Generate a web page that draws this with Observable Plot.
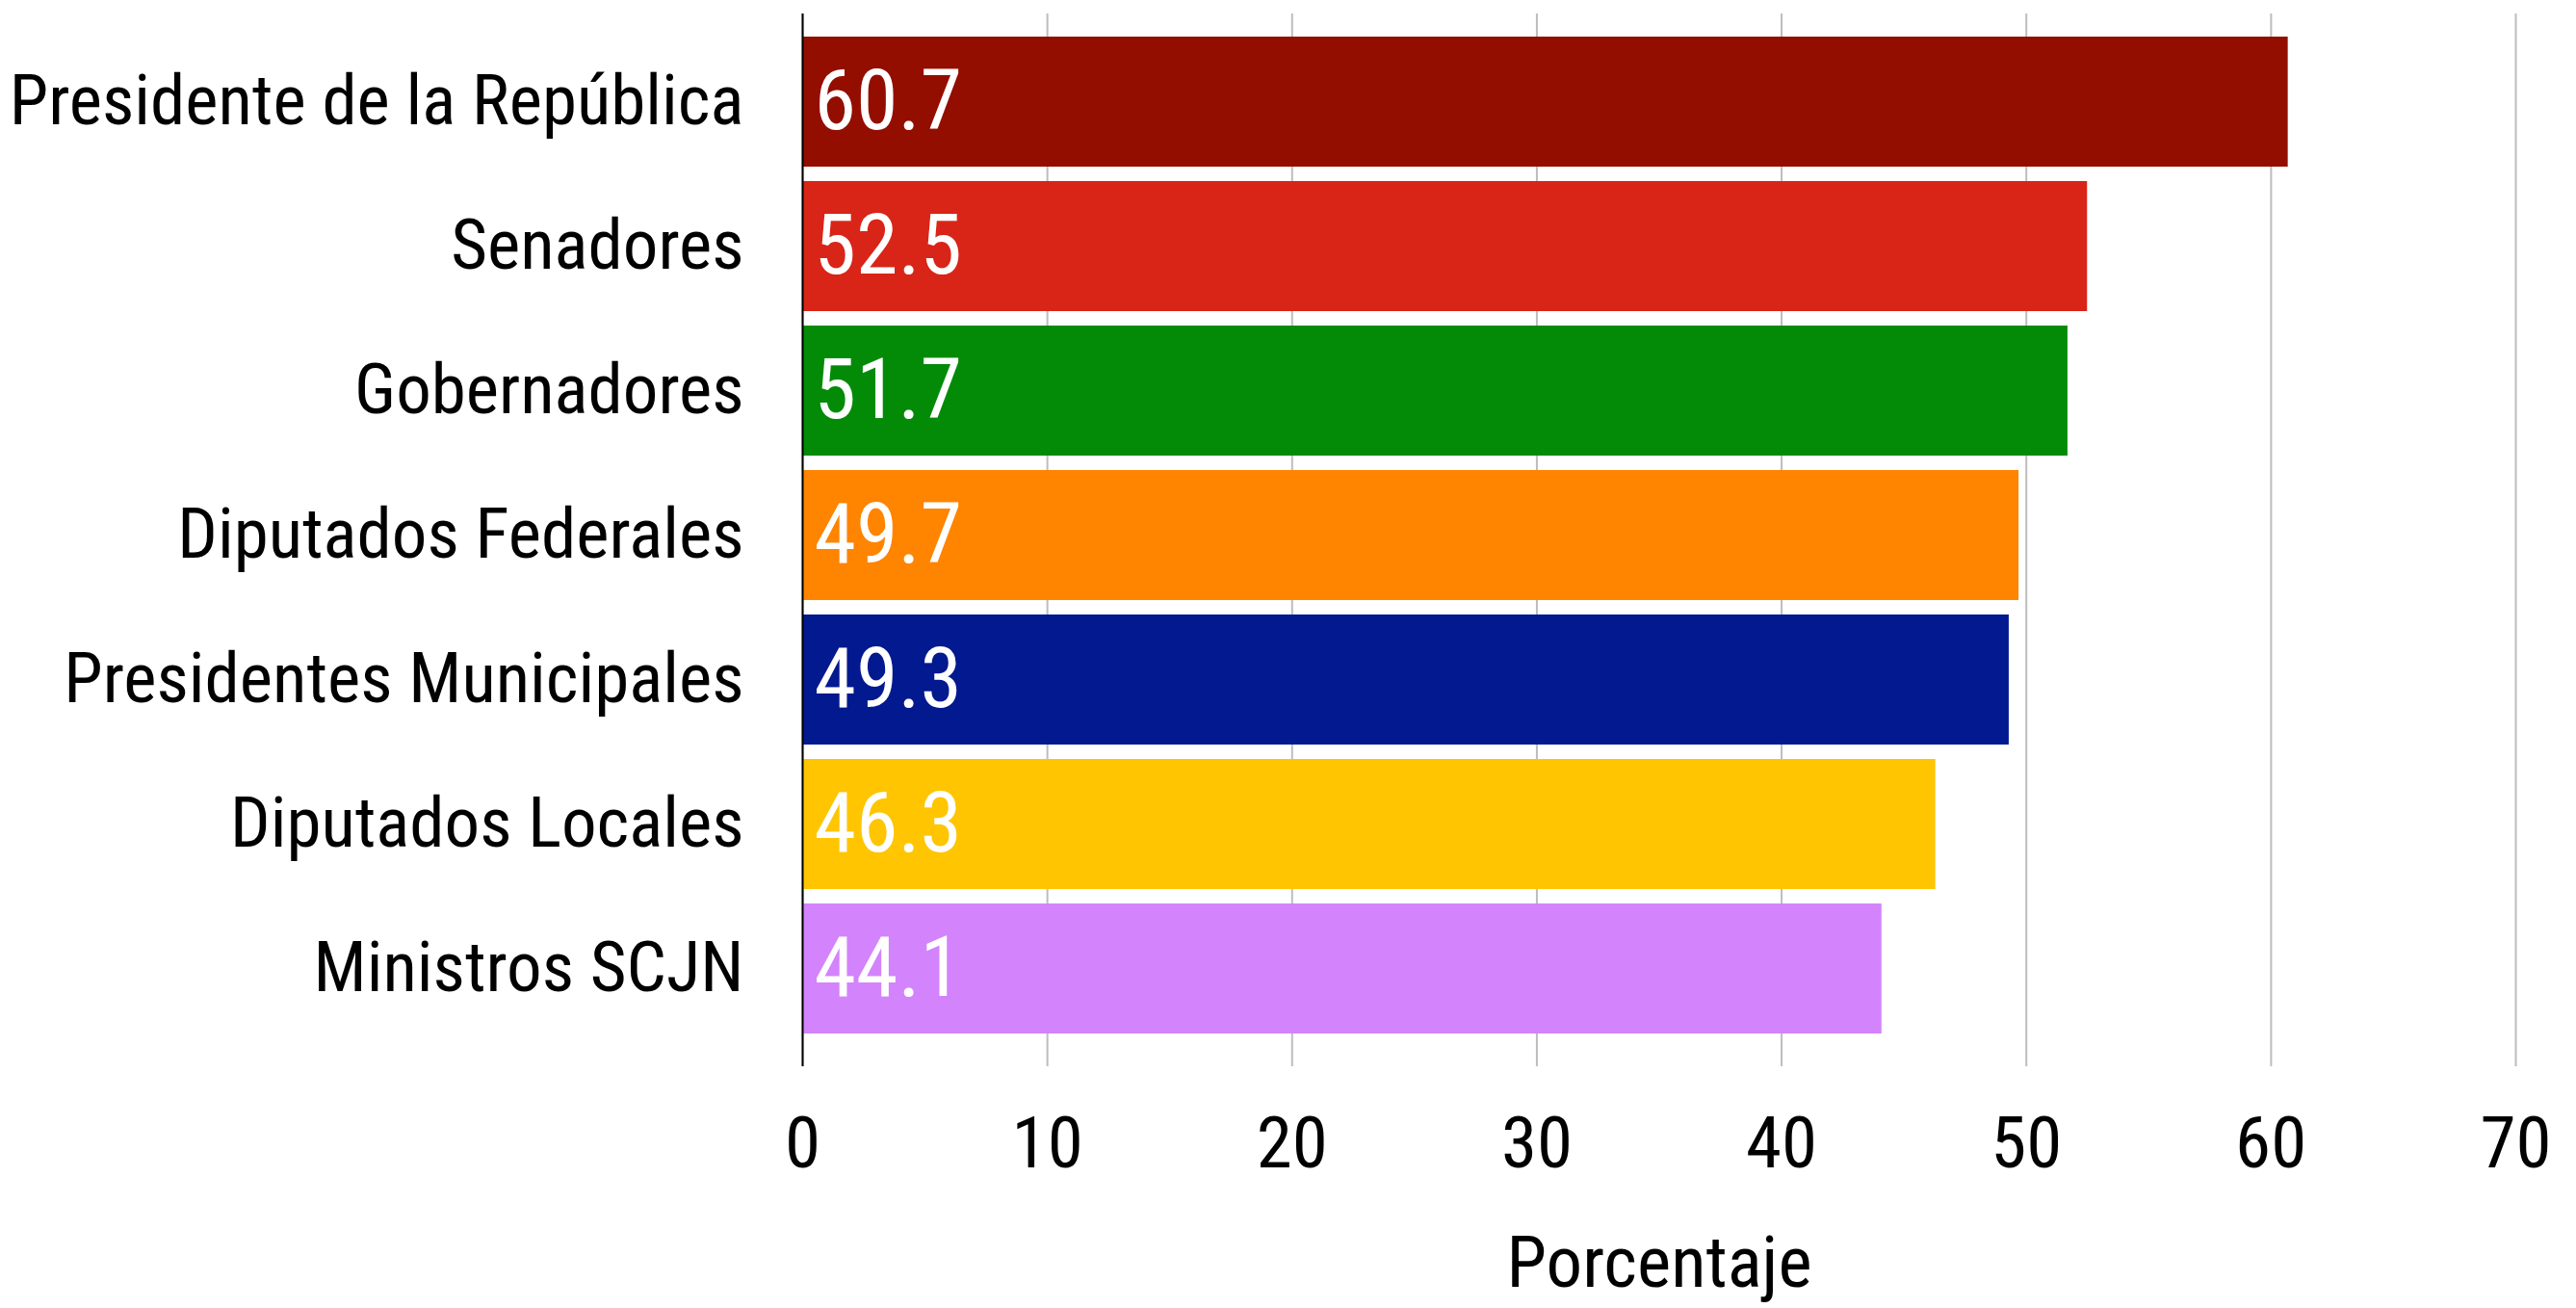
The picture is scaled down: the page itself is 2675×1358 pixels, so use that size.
<!DOCTYPE html>
<html>
<head>
<meta charset="utf-8">
<script src="https://cdn.jsdelivr.net/npm/d3@7"></script>
<script src="https://cdn.jsdelivr.net/npm/@observablehq/plot@0.6"></script>
<style>
  html, body { margin: 0; padding: 0; background: #ffffff; }
</style>
</head>
<body>
<div id="chart"></div>
<script>
const categories = [
  "Presidente de la República",
  "Senadores",
  "Gobernadores",
  "Diputados Federales",
  "Presidentes Municipales",
  "Diputados Locales",
  "Ministros SCJN"
];
const values = [60.7, 52.5, 51.7, 49.7, 49.3, 46.3, 44.1];
const barColors = ["#940e00", "#d92418", "#038b08", "#ff8400", "#02198f", "#fec500", "#d383fb"];
const xTicks = [0, 10, 20, 30, 40, 50, 60, 70];
const xLabel = "Porcentaje";

const data = categories.map((c, i) => ({category: c, value: values[i], color: barColors[i]}));

const font = '"Roboto Condensed", "Liberation Sans Narrow", "DejaVu Sans", Roboto, sans-serif';

const chart = Plot.plot({
  width: 2675,
  height: 1358,
  marginLeft: 833,
  marginRight: 63,
  marginTop: 14,
  marginBottom: 253,
  style: {fontFamily: font, fontStretch: "condensed", fontWeight: 400, background: "#ffffff", color: "#000"},
  x: {domain: [0, 70]},
  y: {domain: categories, padding: 0.1, insetTop: 9, insetBottom: 17},
  marks: [
    Plot.ruleX(xTicks, {stroke: "#bdbdbd", strokeWidth: 2, insetBottom: -2}),
    Plot.barX(data, {y: "category", x: "value", fill: "color"}),
    Plot.ruleX([0], {stroke: "#000", strokeWidth: 2, insetBottom: -2}),
    Plot.text(data, {y: "category", x: 0, text: d => d.value.toFixed(1), fill: "#ffffff", textAnchor: "start", dx: 12, fontSize: 88}),
    Plot.axisX({ticks: xTicks, tickSize: 0, tickPadding: 53, fontSize: 75, label: xLabel, labelAnchor: "center", labelArrow: "none", labelOffset: 230}),
    Plot.axisY({tickSize: 0, tickPadding: 61, fontSize: 73, label: null})
  ]
});
document.getElementById("chart").appendChild(chart);
</script>
</body>
</html>
